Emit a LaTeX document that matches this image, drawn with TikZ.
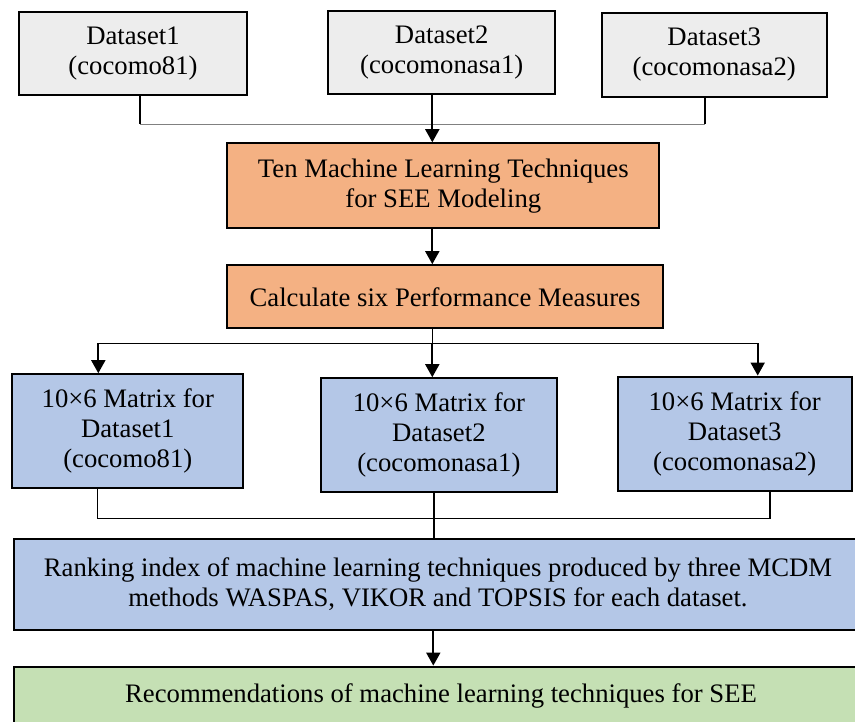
\documentclass[tikz,border=0pt]{standalone}
\usepackage{fontspec}
\setmainfont{Liberation Serif}
\usetikzlibrary{arrows.meta}
\definecolor{boxgrey}{HTML}{EDEDED}
\definecolor{boxorange}{HTML}{F4B183}
\definecolor{boxblue}{HTML}{B4C7E7}
\definecolor{boxgreen}{HTML}{C5E0B4}
\definecolor{lightline}{HTML}{808080}
\begin{document}
\begin{tikzpicture}[x=1pt,y=-1pt,
  box/.style={draw=black,line width=2.2pt,rectangle,inner sep=0pt,align=center,
    font=\fontsize{26.7}{30}\selectfont},
  arr/.style={draw=black,line width=1.8pt,-{Triangle[width=14pt,length=13pt]}},
  conn/.style={draw=black,line width=1.5pt},
  gconn/.style={draw=lightline,line width=1.1pt}]
\useasboundingbox (0,0) rectangle (855,722);
\clip (0,0) rectangle (855,722);
\fill[white] (0,0) rectangle (855,722);

% top datasets
\node[box,fill=boxgrey,minimum width=227.4pt,minimum height=83.3pt] (d1) at (133,53.3) {Dataset1\\(cocomo81)};
\node[box,fill=boxgrey,minimum width=226.7pt,minimum height=83pt] (d2) at (441.7,52.7) {Dataset2\\(cocomonasa1)};
\node[box,fill=boxgrey,minimum width=225pt,minimum height=84.6pt] (d3) at (714.2,55) {Dataset3\\(cocomonasa2)};

% orange
\node[box,fill=boxorange,minimum width=432pt,minimum height=84.7pt] (ml) at (443.3,185.7) {Ten Machine Learning Techniques\\for SEE Modeling};
\node[box,fill=boxorange,minimum width=435.4pt,minimum height=63pt] (perf) at (445,296.8) {Calculate six Performance Measures};

% matrices
\node[box,fill=boxblue,minimum width=231pt,minimum height=114pt] (m1) at (127.8,431.3) {10×6 Matrix for\\Dataset1\\(cocomo81)};
\node[box,fill=boxblue,minimum width=235.7pt,minimum height=114pt] (m2) at (438.9,435.3) {10×6 Matrix for\\Dataset2\\(cocomonasa1)};
\node[box,fill=boxblue,minimum width=234pt,minimum height=114pt] (m3) at (734.7,433.7) {10×6 Matrix for\\Dataset3\\(cocomonasa2)};

% ranking and recommendations
\node[box,fill=boxblue,minimum width=848pt,minimum height=90.4pt] (rank) at (438,584.5) {Ranking index of machine learning techniques produced by three MCDM\\methods WASPAS, VIKOR and TOPSIS for each dataset.};
\node[box,fill=boxgreen,minimum width=854pt,minimum height=58.6pt] (rec) at (441,696) {Recommendations of machine learning techniques for SEE};

% junction coordinates
\coordinate (j1) at (432.3,124.5);
\coordinate (t1) at (140,124.5);
\coordinate (t3) at (705,124.5);
\coordinate (j2) at (432.3,343.3);
\coordinate (a1) at (98.3,343.3);
\coordinate (a3) at (757.7,343.3);
\coordinate (b1) at (97.3,518.7);
\coordinate (b3) at (770,518.7);
\coordinate (j3) at (434,518.7);
\coordinate (j4) at (433.3,630);

% top merge
\draw[conn] (t1 |- d1.south) -- (t1);
\draw[conn] (t3 |- d3.south) -- (t3);
\draw[gconn] (t1) -- (t3);
\draw[arr] (j1 |- d2.south) -- (j1 |- ml.north);

% orange chain
\draw[arr] (j1 |- ml.south) -- (j1 |- perf.north);

% split
\draw[conn] (j2 |- perf.south) -- (j2);
\draw[conn] (a1) -- (a3);
\draw[arr] (a1) -- (a1 |- m1.north);
\draw[arr] (j2) -- (j2 |- m2.north);
\draw[arr] (a3) -- (a3 |- m3.north);

% bottom merge
\draw[conn] (b1 |- m1.south) -- (b1) -- (b3) -- (b3 |- m3.south);
\draw[conn] (j3 |- m2.south) -- (j3 |- rank.north);

% final arrow
\draw[arr] (j4 |- rank.south) -- (j4 |- rec.north);
\end{tikzpicture}
\end{document}
